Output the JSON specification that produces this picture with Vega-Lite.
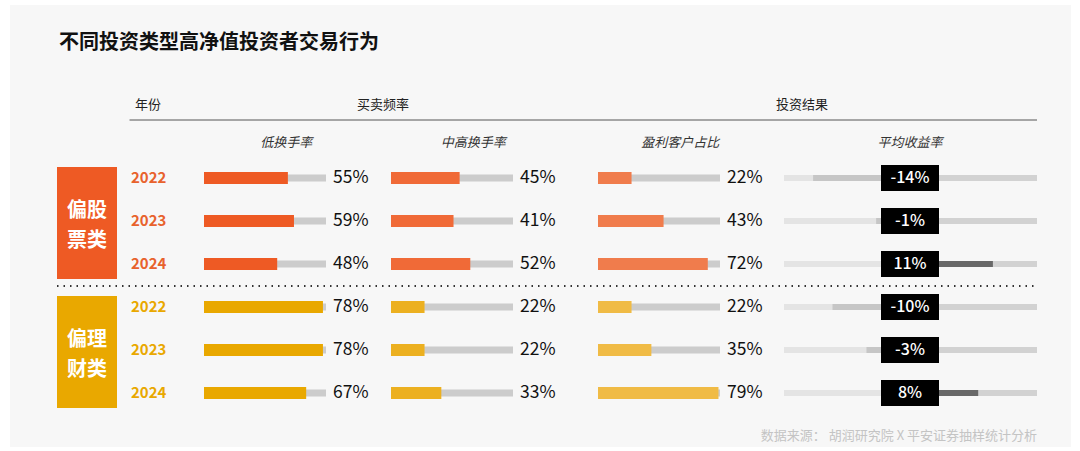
{
  "$schema": "https://vega.github.io/schema/vega-lite/v6.json",
  "width": 1061,
  "height": 442,
  "autosize": "none",
  "padding": {"left": 10, "top": 5, "right": 9, "bottom": 4},
  "background": "#ffffff",
  "config": {
    "view": {"stroke": null, "fill": "#f7f7f7"},
    "font": "Noto Sans CJK SC",
    "locale": {"number": {"decimal": ".", "thousands": ",", "grouping": [3], "currency": ["", ""], "minus": "-"}}
  },
  "datasets": {
    "rows": [
      {"group": "偏股票类", "year": "2022", "row": "偏股票类-2022", "low": 0.55, "mid": 0.45, "win": 0.22, "ret": -0.14},
      {"group": "偏股票类", "year": "2023", "row": "偏股票类-2023", "low": 0.59, "mid": 0.41, "win": 0.43, "ret": -0.01},
      {"group": "偏股票类", "year": "2024", "row": "偏股票类-2024", "low": 0.48, "mid": 0.52, "win": 0.72, "ret": 0.11},
      {"group": "偏理财类", "year": "2022", "row": "偏理财类-2022", "low": 0.78, "mid": 0.22, "win": 0.22, "ret": -0.10},
      {"group": "偏理财类", "year": "2023", "row": "偏理财类-2023", "low": 0.78, "mid": 0.22, "win": 0.35, "ret": -0.03},
      {"group": "偏理财类", "year": "2024", "row": "偏理财类-2024", "low": 0.67, "mid": 0.33, "win": 0.79, "ret": 0.08}
    ],
    "groups": [
      {"group": "偏股票类", "mid": "偏股票类-2023", "label": ["偏股", "票类"]},
      {"group": "偏理财类", "mid": "偏理财类-2023", "label": ["偏理", "财类"]}
    ]
  },
  "data": {"name": "rows"},
  "encoding": {
    "y": {
      "field": "row",
      "type": "nominal",
      "axis": null,
      "scale": {
        "type": "band",
        "domain": ["title", "hdr", "sub", "偏股票类-2022", "偏股票类-2023", "偏股票类-2024", "偏理财类-2022", "偏理财类-2023", "偏理财类-2024", "src"],
        "range": [22.5, 452.5],
        "paddingInner": 0,
        "paddingOuter": 0
      }
    }
  },
  "layer": [
    {
      "data": {"values": [{}]},
      "encoding": {
        "x": {"datum": 0, "type": "quantitative", "axis": null, "scale": {"domain": [0, 1], "range": [47, 1027], "nice": false, "zero": false}}
      },
      "layer": [
        {
          "mark": {"type": "text", "text": "不同投资类型高净值投资者交易行为", "align": "left", "baseline": "middle", "dx": 2, "dy": -6, "fontSize": 20, "fontWeight": "bold", "color": "#111111"},
          "encoding": {"y": {"datum": "title"}}
        },
        {
          "mark": {"type": "rule", "color": "#555555", "strokeWidth": 1, "yOffset": 28},
          "encoding": {"x": {"datum": 0.074}, "x2": {"datum": 1}, "y": {"datum": "hdr"}}
        },
        {
          "mark": {"type": "rule", "color": "#333333", "strokeWidth": 2, "strokeDash": [1.5, 5], "yOffset": -21},
          "encoding": {"x": {"datum": 0}, "x2": {"datum": 1}, "y": {"datum": "偏理财类-2022"}}
        },
        {
          "mark": {"type": "text", "text": "数据来源： 胡润研究院 X 平安证券抽样统计分析", "align": "right", "baseline": "middle", "fontSize": 13, "color": "#c4c4c4"},
          "encoding": {"x": {"datum": 1}, "y": {"datum": "src"}}
        }
      ]
    },
    {
      "data": {"name": "groups"},
      "encoding": {
        "x": {"datum": 0, "type": "quantitative", "axis": null, "scale": {"domain": [0, 1], "range": [47, 107], "nice": false, "zero": false}},
        "y": {"field": "mid", "type": "nominal"}
      },
      "layer": [
        {
          "mark": {"type": "bar", "size": 112, "yOffset": 2},
          "encoding": {
            "x2": {"datum": 1},
            "color": {"field": "group", "type": "nominal", "legend": null, "scale": {"domain": ["偏股票类", "偏理财类"], "range": ["#ee5a24", "#e9a800"]}}
          }
        },
        {
          "mark": {"type": "text", "align": "center", "baseline": "middle", "dy": -10, "fontSize": 20, "fontWeight": "bold", "lineHeight": 30, "color": "#ffffff"},
          "encoding": {"x": {"datum": 0.5}, "text": {"field": "label"}}
        }
      ]
    },
    {
      "encoding": {
        "x": {"datum": 0, "type": "quantitative", "axis": null, "scale": {"domain": [0, 1], "range": [121, 194], "nice": false, "zero": false}}
      },
      "layer": [
        {
          "mark": {"type": "text", "align": "left", "baseline": "middle", "fontSize": 15, "fontWeight": "bold"},
          "encoding": {
            "text": {"field": "year"},
            "color": {"field": "group", "type": "nominal", "legend": null, "scale": {"domain": ["偏股票类", "偏理财类"], "range": ["#e8622c", "#e9a800"]}}
          }
        },
        {
          "data": {"values": [{}]},
          "mark": {"type": "text", "text": "年份", "align": "left", "baseline": "middle", "dx": 4, "dy": 13, "fontSize": 13, "color": "#222222"},
          "encoding": {"y": {"datum": "hdr"}}
        }
      ]
    },
    {
      "layer": [
        {
          "mark": {"type": "bar", "size": 7, "color": "#cccccc"},
          "encoding": {
            "x": {"datum": 0, "type": "quantitative", "axis": null, "scale": {"domain": [0, 0.8], "range": [194, 316], "nice": false, "zero": false}},
            "x2": {"datum": 0.8}
          }
        },
        {
          "mark": {"type": "bar", "size": 12},
          "encoding": {
            "x": {"field": "low", "type": "quantitative"},
            "color": {"field": "group", "type": "nominal", "legend": null, "scale": {"domain": ["偏股票类", "偏理财类"], "range": ["#ee5a24", "#e9a800"]}}
          }
        },
        {
          "mark": {"type": "text", "align": "left", "baseline": "middle", "dx": 7, "fontSize": 17.5, "color": "#111111"},
          "encoding": {"x": {"datum": 0.8}, "text": {"field": "low", "type": "quantitative", "format": ".0%"}}
        },
        {
          "data": {"values": [{}]},
          "mark": {"type": "text", "text": "低换手率", "align": "center", "baseline": "middle", "dy": 8, "fontSize": 13, "fontStyle": "italic", "color": "#333333"},
          "encoding": {"x": {"datum": 0.54}, "y": {"datum": "sub"}}
        }
      ]
    },
    {
      "layer": [
        {
          "mark": {"type": "bar", "size": 7, "color": "#cccccc"},
          "encoding": {
            "x": {"datum": 0, "type": "quantitative", "axis": null, "scale": {"domain": [0, 0.8], "range": [381, 503], "nice": false, "zero": false}},
            "x2": {"datum": 0.8}
          }
        },
        {
          "mark": {"type": "bar", "size": 12},
          "encoding": {
            "x": {"field": "mid", "type": "quantitative"},
            "color": {"field": "group", "type": "nominal", "legend": null, "scale": {"domain": ["偏股票类", "偏理财类"], "range": ["#f06a37", "#ecb020"]}}
          }
        },
        {
          "mark": {"type": "text", "align": "left", "baseline": "middle", "dx": 7, "fontSize": 17.5, "color": "#111111"},
          "encoding": {"x": {"datum": 0.8}, "text": {"field": "mid", "type": "quantitative", "format": ".0%"}}
        },
        {
          "data": {"values": [{}]},
          "mark": {"type": "text", "text": "中高换手率", "align": "center", "baseline": "middle", "dy": 8, "fontSize": 13, "fontStyle": "italic", "color": "#333333"},
          "encoding": {"x": {"datum": 0.54}, "y": {"datum": "sub"}}
        },
        {
          "data": {"values": [{}]},
          "mark": {"type": "text", "text": "买卖频率", "align": "center", "baseline": "middle", "dx": -8, "dy": 13, "fontSize": 13, "color": "#222222"},
          "encoding": {"x": {"datum": 0}, "y": {"datum": "hdr"}}
        }
      ]
    },
    {
      "layer": [
        {
          "mark": {"type": "bar", "size": 7, "color": "#cccccc"},
          "encoding": {
            "x": {"datum": 0, "type": "quantitative", "axis": null, "scale": {"domain": [0, 0.8], "range": [588, 710], "nice": false, "zero": false}},
            "x2": {"datum": 0.8}
          }
        },
        {
          "mark": {"type": "bar", "size": 12},
          "encoding": {
            "x": {"field": "win", "type": "quantitative"},
            "color": {"field": "group", "type": "nominal", "legend": null, "scale": {"domain": ["偏股票类", "偏理财类"], "range": ["#f07c4c", "#f0bb45"]}}
          }
        },
        {
          "mark": {"type": "text", "align": "left", "baseline": "middle", "dx": 7, "fontSize": 17.5, "color": "#111111"},
          "encoding": {"x": {"datum": 0.8}, "text": {"field": "win", "type": "quantitative", "format": ".0%"}}
        },
        {
          "data": {"values": [{}]},
          "mark": {"type": "text", "text": "盈利客户占比", "align": "center", "baseline": "middle", "dy": 8, "fontSize": 13, "fontStyle": "italic", "color": "#333333"},
          "encoding": {"x": {"datum": 0.54}, "y": {"datum": "sub"}}
        }
      ]
    },
    {
      "layer": [
        {
          "mark": {"type": "bar", "size": 6, "color": "#e4e4e4"},
          "encoding": {
            "x": {"datum": -0.2, "type": "quantitative", "axis": null, "scale": {"domain": [-0.2, 0, 0, 0.2], "range": [774, 871, 929, 1027], "nice": false, "zero": false}},
            "x2": {"datum": 0}
          }
        },
        {
          "mark": {"type": "bar", "size": 6, "color": "#d2d2d2"},
          "encoding": {"x": {"datum": 0}, "x2": {"datum": 0.2}}
        },
        {
          "mark": {"type": "bar", "size": 6},
          "encoding": {
            "x": {"field": "ret", "type": "quantitative"},
            "color": {"condition": {"test": "datum.ret < 0", "value": "#c6c6c6"}, "value": "#686868"}
          }
        },
        {
          "data": {"values": [{}]},
          "mark": {"type": "text", "text": "投资结果", "align": "center", "baseline": "middle", "dx": 18, "dy": 13, "fontSize": 13, "color": "#222222"},
          "encoding": {"x": {"datum": -0.2}, "y": {"datum": "hdr"}}
        }
      ]
    },
    {
      "encoding": {
        "x": {"datum": 0, "type": "quantitative", "axis": null, "scale": {"domain": [0, 1], "range": [871, 929], "nice": false, "zero": false}}
      },
      "layer": [
        {
          "mark": {"type": "bar", "size": 26, "color": "#000000"},
          "encoding": {"x2": {"datum": 1}}
        },
        {
          "mark": {"type": "text", "align": "center", "baseline": "middle", "fontSize": 16, "fontWeight": 500, "color": "#ffffff"},
          "encoding": {"x": {"datum": 0.5}, "text": {"field": "ret", "type": "quantitative", "format": ".0%"}}
        },
        {
          "data": {"values": [{}]},
          "mark": {"type": "text", "text": "平均收益率", "align": "center", "baseline": "middle", "dy": 8, "fontSize": 13, "fontStyle": "italic", "color": "#333333"},
          "encoding": {"x": {"datum": 0.5}, "y": {"datum": "sub"}}
        }
      ]
    }
  ],
  "resolve": {"scale": {"x": "independent", "color": "independent"}}
}
